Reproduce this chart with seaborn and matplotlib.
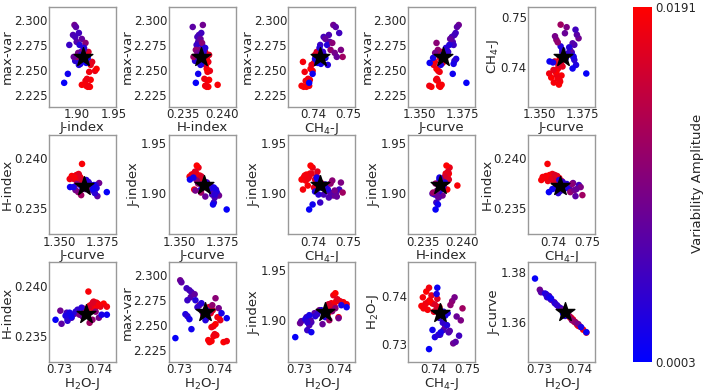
import numpy as np
import pandas as pd
import matplotlib
matplotlib.use("Agg")
import matplotlib.pyplot as plt
import matplotlib.ticker as mt
from matplotlib.colors import LinearSegmentedColormap, Normalize
from matplotlib.cm import ScalarMappable
import seaborn as sns

# retrieved samples (red group first, then blue/purple group)
j_index = [1.915, 1.913, 1.918, 1.916, 1.907, 1.912, 1.919, 1.914, 1.917, 1.925,
           1.927, 1.905, 1.921, 1.919, 1.911, 1.916, 1.913, 1.909, 1.903,
           1.883, 1.897, 1.899, 1.895, 1.898, 1.903, 1.900, 1.907, 1.890, 1.904,
           1.910, 1.906, 1.901, 1.898, 1.905, 1.888, 1.913, 1.908, 1.903, 1.912,
           1.909, 1.902, 1.900, 1.906, 1.910, 1.896, 1.915]
h_index = [0.2380, 0.2378, 0.2382, 0.2379, 0.2394, 0.2381, 0.2383, 0.2377, 0.2381, 0.2384,
           0.2380, 0.2376, 0.2382, 0.2379, 0.2380, 0.2378, 0.2383, 0.2377, 0.2381,
           0.2366, 0.2375, 0.2362, 0.2370, 0.2368, 0.2373, 0.2369, 0.2372, 0.2367, 0.2374,
           0.2371, 0.2376, 0.2370, 0.2365, 0.2373, 0.2369, 0.2371, 0.2370, 0.2372, 0.2374,
           0.2366, 0.2368, 0.2363, 0.2372, 0.2378, 0.2369, 0.2371]
ch4_j = [0.7372, 0.7366, 0.7380, 0.7388, 0.7384, 0.7378, 0.7390, 0.7385, 0.7375, 0.7398,
         0.7392, 0.7402, 0.7412, 0.7395, 0.7418, 0.7410, 0.7405, 0.7425, 0.7370,
         0.7388, 0.7458, 0.7465, 0.7445, 0.7430, 0.7475, 0.7448, 0.7435, 0.7420, 0.7440,
         0.7480, 0.7428, 0.7405, 0.7415, 0.7422, 0.7398, 0.7412, 0.7435, 0.7442, 0.7455,
         0.7450, 0.7462, 0.7485, 0.7430, 0.7418, 0.7468, 0.7410]
j_curve = [1.3622, 1.3615, 1.3570, 1.3558, 1.3630, 1.3607, 1.3598, 1.3602, 1.3618, 1.3610,
           1.3600, 1.3636, 1.3590, 1.3583, 1.3620, 1.3628, 1.3612, 1.3650, 1.3585,
           1.3775, 1.3730, 1.3720, 1.3705, 1.3690, 1.3712, 1.3695, 1.3680, 1.3700, 1.3675,
           1.3660, 1.3668, 1.3715, 1.3705, 1.3700, 1.3695, 1.3560, 1.3635, 1.3625, 1.3600,
           1.3608, 1.3592, 1.3625, 1.3635, 1.3655, 1.3650, 1.3580]
max_var = [2.233, 2.234, 2.233, 2.234, 2.235, 2.239, 2.240, 2.241, 2.248, 2.249,
           2.251, 2.257, 2.258, 2.255, 2.262, 2.268, 2.265, 2.260, 2.258,
           2.237, 2.295, 2.293, 2.285, 2.283, 2.287, 2.278, 2.281, 2.275, 2.275,
           2.270, 2.268, 2.261, 2.259, 2.256, 2.246, 2.257, 2.262, 2.255, 2.277,
           2.270, 2.267, 2.263, 2.265, 2.272, 2.263, 2.262]
h2o_j = [0.7375, 0.7380, 0.7410, 0.7418, 0.7372, 0.7385, 0.7392, 0.7388, 0.7380, 0.7385,
         0.7390, 0.7368, 0.7395, 0.7402, 0.7378, 0.7373, 0.7383, 0.7360, 0.7398,
         0.7290, 0.7302, 0.7305, 0.7325, 0.7330, 0.7318, 0.7328, 0.7338, 0.7320, 0.7340,
         0.7350, 0.7345, 0.7315, 0.7320, 0.7325, 0.7330, 0.7418, 0.7360, 0.7365, 0.7390,
         0.7382, 0.7398, 0.7375, 0.7368, 0.7355, 0.7358, 0.7405]
amplitude = [0.0185, 0.0188, 0.0191, 0.0180, 0.0186, 0.0183, 0.0189, 0.0178, 0.0182, 0.0175,
             0.0190, 0.0170, 0.0168, 0.0172, 0.0176, 0.0160, 0.0165, 0.0158, 0.0184,
             0.0008, 0.0085, 0.0070, 0.0060, 0.0055, 0.0050, 0.0065, 0.0075, 0.0045, 0.0030,
             0.0095, 0.0040, 0.0025, 0.0035, 0.0020, 0.0015, 0.0012, 0.0018, 0.0028, 0.0105,
             0.0110, 0.0090, 0.0120, 0.0040, 0.0032, 0.0080, 0.0022]

# best-fit (star)
best = {"J-index": 1.908, "H-index": 0.2372, "CH4-J": 0.742,
        "J-curve": 1.364, "max-var": 2.263, "H2O-J": 0.7365}

amp_min, amp_max = 0.0003, 0.0191

# (x, y) for each panel, row by row
pairs = [("J-index", "max-var"), ("H-index", "max-var"), ("CH4-J", "max-var"),
         ("J-curve", "max-var"), ("J-curve", "CH4-J"),
         ("J-curve", "H-index"), ("J-curve", "J-index"), ("CH4-J", "J-index"),
         ("H-index", "J-index"), ("CH4-J", "H-index"),
         ("H2O-J", "H-index"), ("H2O-J", "max-var"), ("H2O-J", "J-index"),
         ("CH4-J", "H2O-J"), ("H2O-J", "J-curve")]

df = pd.DataFrame({"J-index": j_index, "H-index": h_index, "CH4-J": ch4_j,
                   "J-curve": j_curve, "max-var": max_var, "H2O-J": h2o_j,
                   "amp": amplitude})

labels = {"J-index": "J-index", "H-index": "H-index", "CH4-J": "CH$_4$-J",
          "J-curve": "J-curve", "max-var": "max-var", "H2O-J": "H$_2$O-J"}
xlims = {"J-index": (1.862, 1.953), "H-index": (0.2331, 0.2417),
         "CH4-J": (0.7328, 0.7522), "J-curve": (1.3435, 1.3827),
         "H2O-J": (0.7273, 0.7440)}
ylims = {"J-index": (1.858, 1.958), "H-index": (0.2324, 0.2423),
         "CH4-J": (0.7322, 0.7520), "J-curve": (1.344, 1.384),
         "max-var": (2.213, 2.313), "H2O-J": (0.7263, 0.7471)}
xstep = {"J-index": 0.05, "H-index": 0.005, "CH4-J": 0.01, "J-curve": 0.025, "H2O-J": 0.01}
ystep = {"J-index": 0.05, "H-index": 0.005, "CH4-J": 0.01, "J-curve": 0.02,
         "max-var": 0.025, "H2O-J": 0.01}

sns.set_style("white")
plt.rcParams["axes.formatter.useoffset"] = False
plt.rcParams["mathtext.default"] = "regular"

cmap = LinearSegmentedColormap.from_list("amp", ["blue", "red"])
norm = Normalize(vmin=amp_min, vmax=amp_max)

fig, axes = plt.subplots(3, 5, figsize=(7.06, 3.91), dpi=100)
fig.subplots_adjust(left=0.069, right=0.843, top=0.982, bottom=0.074,
                    wspace=0.79, hspace=0.28)

for ax, (xv, yv) in zip(axes.flat, pairs):
    sns.scatterplot(data=df, x=xv, y=yv, hue="amp", palette=cmap, hue_norm=norm,
                    s=22, edgecolor="none", legend=False, ax=ax)
    ax.scatter(best[xv], best[yv], marker="*", s=200, color="black", zorder=5)
    ax.set_xlim(xlims[xv])
    ax.set_ylim(ylims[yv])
    ax.xaxis.set_major_locator(mt.MultipleLocator(xstep[xv]))
    ax.yaxis.set_major_locator(mt.MultipleLocator(ystep[yv]))
    ax.set_xlabel(labels[xv], fontsize=9.5, labelpad=0)
    ax.set_ylabel(labels[yv], fontsize=9.5, labelpad=0)
    ax.tick_params(labelsize=8.5, length=0, pad=1)
    for sp in ax.spines.values():
        sp.set_color("#999999")
        sp.set_linewidth(1)

cax = fig.add_axes([0.8966, 0.074, 0.027, 0.908])
cb = fig.colorbar(ScalarMappable(norm=norm, cmap=cmap), cax=cax,
                  ticks=[amp_min, amp_max])
cb.ax.set_yticklabels(["0.0003", "0.0191"])
cb.ax.tick_params(labelsize=8.5, length=0, pad=2)
cb.outline.set_visible(False)
fig.text(0.988, 0.53, "Variability Amplitude", fontsize=9.5, rotation=90,
         ha="center", va="center")

plt.savefig("out.png", dpi=100)
